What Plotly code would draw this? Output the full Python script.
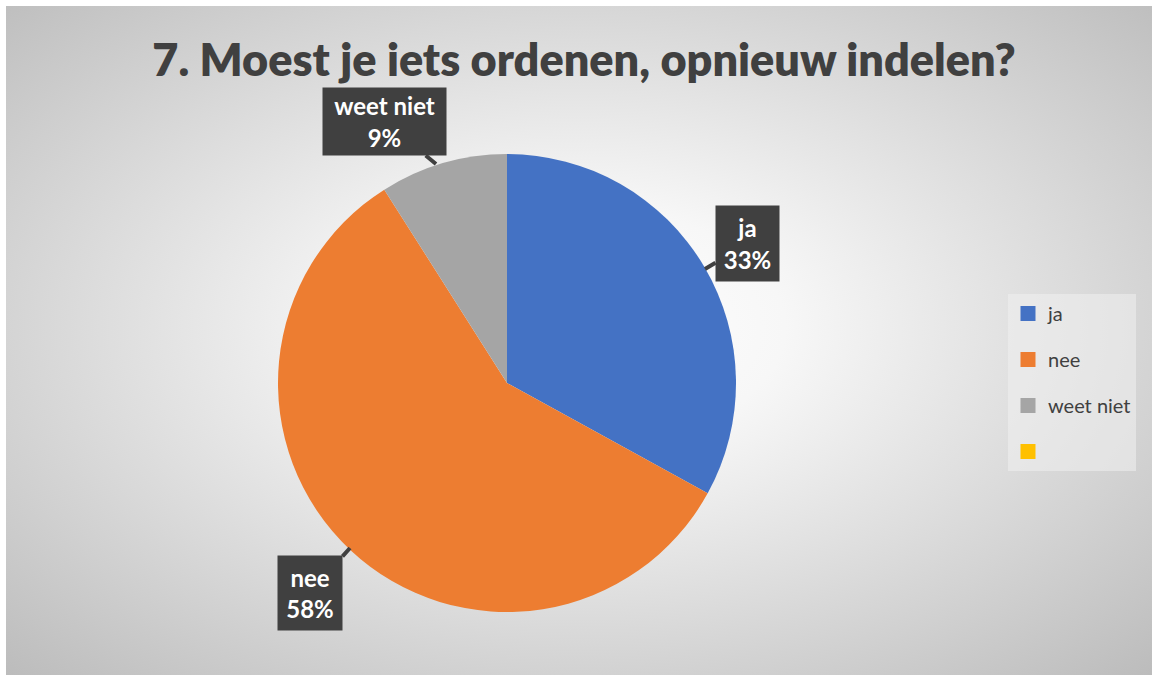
import base64
import plotly.graph_objects as go

# ---- data ----
title_text = "7. Moest je iets ordenen, opnieuw indelen?"
labels = ["ja", "nee", "weet niet", ""]
values = [33, 58, 9, 0]
colors = ["#4472C4", "#ED7D31", "#A5A5A5", "#FFC000"]

W, H = 1152, 675

# radial gradient background (chart area)
svg = f'''<svg xmlns="http://www.w3.org/2000/svg" width="1146" height="669" viewBox="0 0 1146 669" preserveAspectRatio="none">
<defs><radialGradient id="g" cx="50%" cy="48%" r="72%">
<stop offset="0" stop-color="#ffffff"/><stop offset="0.25" stop-color="#f7f7f7"/>
<stop offset="1" stop-color="#bcbcbc"/></radialGradient></defs>
<rect x="0" y="0" width="1146" height="669" fill="url(#g)"/></svg>'''
bg_uri = "data:image/svg+xml;base64," + base64.b64encode(svg.encode()).decode()

cx, cy, r = 507, 383, 229

fig = go.Figure()
fig.add_trace(go.Pie(
    labels=[l if l else " " for l in labels], values=values, sort=False,
    direction="clockwise", rotation=0,
    marker=dict(colors=colors, line=dict(width=0)),
    textinfo="none", hoverinfo="skip", showlegend=False,
    domain=dict(x=[(cx - r) / W, (cx + r) / W], y=[1 - (cy + r) / H, 1 - (cy - r) / H]),
))

# legend entries
for i, (lab, col) in enumerate(zip(labels, colors)):
    fig.add_trace(go.Scatter(
        x=[None], y=[None], mode="markers", name=lab if lab else " ",
        marker=dict(symbol="square", size=15, color=col),
        legendgroup=f"g{i}", showlegend=True, hoverinfo="skip",
    ))

# data label callouts
total = sum(values)
callouts = {
    0: dict(tip=(705, 269), box=(747.5, 243.5), w=55, h=67),
    1: dict(tip=(350, 548), box=(310, 593), w=56, h=66),
    2: dict(tip=(436, 164), box=(384.5, 121.5), w=115, h=59),
}
for i, c in callouts.items():
    pct = round(100 * values[i] / total)
    tx, ty = c["tip"]
    bx, by = c["box"]
    fig.add_annotation(
        xref="paper", yref="paper", x=tx / W, y=1 - ty / H,
        ax=bx - tx, ay=by - ty, axref="pixel", ayref="pixel",
        text=f"<b>{labels[i]}<br>{pct}%</b>",
        font=dict(family="Lato", size=24, color="#ffffff"),
        bgcolor="#404040", borderpad=4, width=c["w"], height=c["h"],
        showarrow=True, arrowhead=0, arrowwidth=4, arrowcolor="#404040",
        align="center", valign="middle",
    )

fig.update_layout(
    width=W, height=H,
    margin=dict(l=0, r=0, t=0, b=0),
    paper_bgcolor="#ffffff", plot_bgcolor="rgba(0,0,0,0)",
    xaxis=dict(visible=False), yaxis=dict(visible=False),
    images=[dict(source=bg_uri, xref="paper", yref="paper",
                 x=6 / W, y=1 - 6 / H, sizex=1146 / W, sizey=669 / H,
                 xanchor="left", yanchor="top", sizing="stretch", layer="below")],
    title=dict(text=title_text, x=0.507, xanchor="center",
               y=1 - 60 / H, yanchor="middle",
               font=dict(family="Lato", size=45, color="#404040", weight=800)),
    legend=dict(x=1008 / W, y=1 - 294 / H, xanchor="left", yanchor="top",
                bgcolor="rgba(240,240,240,0.55)", font=dict(family="Lato", size=20, color="#404040"),
                tracegroupgap=17, itemwidth=30, entrywidth=112,
                itemclick=False, itemdoubleclick=False),
    showlegend=True,
)

fig.write_html("out.html", config={"displayModeBar": False},
               post_script="document.body.style.margin='0';")
